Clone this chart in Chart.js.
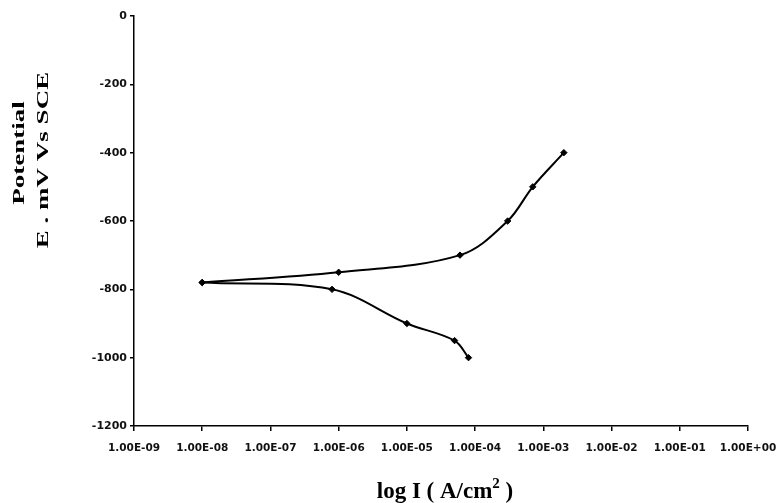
<!DOCTYPE html>
<html>
<head>
<meta charset="utf-8">
<script src="https://cdn.jsdelivr.net/npm/chart.js@4.4.1/dist/chart.umd.min.js"></script>
<style>
  html, body { margin: 0; padding: 0; background: #fff; }
  #wrap { width: 779px; height: 503px; position: relative; }
</style>
</head>
<body>
<div id="wrap"><canvas id="tafel" width="779" height="503"></canvas></div>
<script>
// polarization curve: current density (A/cm2) vs potential (mV vs SCE)
const anodicI = [1e-8, 1e-6, 6e-5, 3e-4, 7e-4, 2e-3];
const anodicE = [-780, -750, -700, -600, -500, -400];
const cathodicI = [1e-8, 8e-7, 1e-5, 5e-5, 8e-5];
const cathodicE = [-780, -800, -900, -950, -1000];

const decadeTicks = [1e-9, 1e-8, 1e-7, 1e-6, 1e-5, 1e-4, 1e-3, 1e-2, 1e-1, 1];
const potentialTicks = [0, -200, -400, -600, -800, -1000, -1200];

const yTitleLines = ['Potential', 'E . mV Vs SCE'];
const xTitle = { main: 'log I ( A/cm', sup: '2', tail: ' )' };

// excel-style scientific label: 1.00E-09
function sci(v) {
  const exp = Math.round(Math.log10(v));
  const sign = exp < 0 ? '-' : '+';
  const digits = String(Math.abs(exp)).padStart(2, '0');
  return '1.00E' + sign + digits;
}

const toPoints = (xs, ys) => xs.map((x, i) => ({ x, y: ys[i] }));

// axis titles, drawn by hand so the two-line rotated label sits where it should
const axisTitles = {
  id: 'axisTitles',
  afterDraw(chart) {
    const { ctx } = chart;
    ctx.save();
    ctx.fillStyle = '#000';
    ctx.textAlign = 'center';
    ctx.textBaseline = 'middle';
    ctx.font = 'bold 27px "Liberation Serif", "Times New Roman", serif';
    const yCenters = [[19, 153], [43, 160]];
    yTitleLines.forEach((line, i) => {
      ctx.save();
      ctx.translate(yCenters[i][0], yCenters[i][1]);
      ctx.rotate(-Math.PI / 2);
      ctx.scale(1, 0.65);
      ctx.fillText(line, 0, 0);
      ctx.restore();
    });

    // x title with superscript
    ctx.textAlign = 'left';
    ctx.textBaseline = 'alphabetic';
    const big = 'bold 23px "Liberation Serif", "Times New Roman", serif';
    const small = 'bold 15px "Liberation Serif", "Times New Roman", serif';
    ctx.font = big;
    const w1 = ctx.measureText(xTitle.main).width;
    const w3 = ctx.measureText(xTitle.tail).width;
    ctx.font = small;
    const w2 = ctx.measureText(xTitle.sup).width;
    let x = 445 - (w1 + w2 + w3) / 2;
    const base = 498;
    ctx.font = big;
    ctx.fillText(xTitle.main, x, base);
    x += w1;
    ctx.font = small;
    ctx.fillText(xTitle.sup, x, base - 10);
    x += w2;
    ctx.font = big;
    ctx.fillText(xTitle.tail, x, base);
    ctx.restore();
  }
};

const lineStyle = {
  borderColor: '#000',
  backgroundColor: '#000',
  borderWidth: 2,
  pointStyle: 'rectRot',
  pointRadius: 3.2,
  pointBorderWidth: 1,
  tension: 0.35,
  fill: false
};

const yTickFont = { family: '"DejaVu Sans", Arial, sans-serif', size: 11, weight: 'bold' };
const xTickFont = { family: '"DejaVu Sans", Arial, sans-serif', size: 10.5, weight: 'bold' };

new Chart(document.getElementById('tafel').getContext('2d'), {
  type: 'line',
  data: {
    datasets: [
      { label: 'anodic', data: toPoints(anodicI, anodicE), ...lineStyle },
      { label: 'cathodic', data: toPoints(cathodicI, cathodicE), ...lineStyle }
    ]
  },
  options: {
    responsive: false,
    animation: false,
    events: [],
    layout: { padding: { top: 16, right: 31, left: 0, bottom: 0 } },
    plugins: {
      legend: { display: false },
      tooltip: { enabled: false }
    },
    scales: {
      x: {
        type: 'logarithmic',
        min: 1e-9,
        max: 1,
        afterBuildTicks(scale) {
          scale.ticks = decadeTicks.map(v => ({ value: v, major: true }));
        },
        afterFit(scale) {
          scale.height = 77;
          // let the last label hang into the right margin
          scale.paddingLeft = 0;
          scale.paddingRight = 0;
        },
        ticks: {
          autoSkip: false,
          maxRotation: 0,
          minRotation: 0,
          padding: 11,
          color: '#111',
          font: xTickFont,
          callback: v => sci(v)
        },
        grid: { drawOnChartArea: false, drawTicks: true, tickLength: 5, color: '#000', lineWidth: 1.5 },
        border: { color: '#000', width: 1.5 }
      },
      y: {
        min: -1200,
        max: 0,
        afterBuildTicks(scale) {
          scale.ticks = potentialTicks.map(v => ({ value: v }));
        },
        afterFit(scale) { scale.width = 134; },
        ticks: {
          padding: 3,
          color: '#111',
          font: yTickFont,
          callback: v => String(v)
        },
        grid: { drawOnChartArea: false, drawTicks: true, tickLength: 4, color: '#000', lineWidth: 1.5 },
        border: { color: '#000', width: 1.5 }
      }
    }
  },
  plugins: [axisTitles]
});
</script>
</body>
</html>
